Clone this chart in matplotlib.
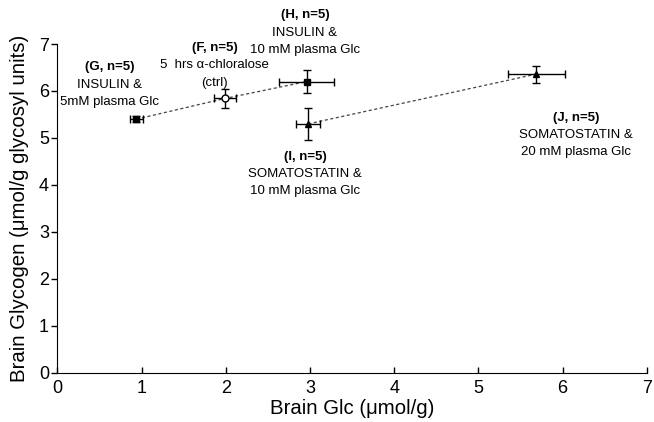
import matplotlib
matplotlib.use("Agg")
import matplotlib.pyplot as plt

# group data (brain Glc, brain glycogen) with SEM
groups = ["G", "F", "H", "I", "J"]
glc = [0.94, 1.99, 2.96, 2.98, 5.69]
glc_err = [0.08, 0.13, 0.33, 0.14, 0.34]
glycogen = [5.40, 5.84, 6.20, 5.30, 6.36]
glycogen_err = [0.07, 0.21, 0.25, 0.34, 0.18]
markers = ["s", "o", "s", "^", "^"]
filled = [True, False, True, True, True]

label_lines = [
    ["(G, n=5)", "INSULIN &", "5mM plasma Glc"],
    ["(F, n=5)", "5  hrs \u03b1-chloralose", "(ctrl)"],
    ["(H, n=5)", "INSULIN &", "10 mM plasma Glc"],
    ["(I, n=5)", "SOMATOSTATIN &", "10 mM plasma Glc"],
    ["(J, n=5)", "SOMATOSTATIN &", "20 mM plasma Glc"],
]
# where each label block sits (data coords, top line)
label_pos = [(0.62, 6.50), (1.87, 6.92), (2.94, 7.61), (2.94, 4.60), (6.16, 5.43)]

# dashed connectors: insulin series and somatostatin series
insulin_idx = [0, 1, 2]
somato_idx = [3, 4]

plt.rcParams["font.family"] = ["Liberation Sans", "DejaVu Sans"]

fig = plt.figure(figsize=(6.54, 4.22), dpi=100)
ax = fig.add_axes([0.0876, 0.1168, 0.9014, 0.7789])

ax.plot([glc[i] for i in insulin_idx], [glycogen[i] for i in insulin_idx],
        ls=(0, (2.5, 2)), color="#444444", lw=0.9, zorder=1)
ax.plot([glc[i] for i in somato_idx], [glycogen[i] for i in somato_idx],
        ls=(0, (2.5, 2)), color="#444444", lw=0.9, zorder=1)

for i in range(len(groups)):
    ax.errorbar(glc[i], glycogen[i], xerr=glc_err[i], yerr=glycogen_err[i],
                fmt=markers[i], color="black", ms=5 if markers[i] != "^" else 4.5,
                mfc="black" if filled[i] else "white", mec="black", mew=1,
                ecolor="black", elinewidth=1, capsize=3, capthick=1, zorder=3)

for lines, (lx, ly) in zip(label_lines, label_pos):
    for k, line in enumerate(lines):
        ax.text(lx, ly - k * 0.37, line, ha="center", va="center", fontsize=9.5,
                fontweight="bold" if k == 0 else "normal", clip_on=False)

ax.set_xlim(0, 7)
ax.set_ylim(0, 7)
ax.set_xticks(range(8))
ax.set_yticks(range(8))
ax.tick_params(axis="both", labelsize=13, length=4, width=1)
ax.tick_params(axis="x", direction="in", pad=5)
ax.tick_params(axis="y", pad=2)
ax.spines["top"].set_visible(False)
ax.spines["right"].set_visible(False)
ax.set_xlabel("Brain Glc (\u03bcmol/g)", fontsize=14.7, labelpad=2)
ax.set_ylabel("Brain Glycogen (\u03bcmol/g glycosyl units)", fontsize=14.7, labelpad=7)

fig.savefig("out.png", dpi=100)
